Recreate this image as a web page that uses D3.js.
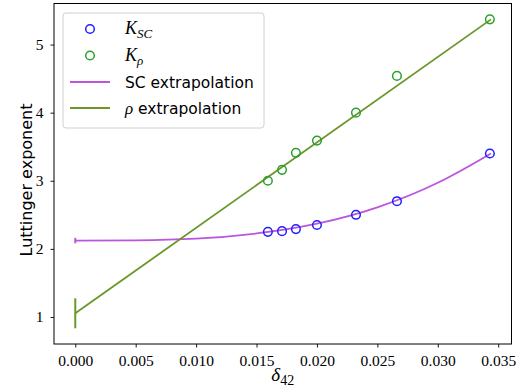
<!DOCTYPE html>
<html lang="en">
<head>
<meta charset="UTF-8">
<title>Luttinger exponent</title>
<script src="https://d3js.org/d3.v7.min.js"></script>
<style>
  body { margin: 0; background: white; }
  .tick text { font-family: "Liberation Serif", serif; font-size: 15.5px; }
</style>
</head>
<body>
<svg id="chart"></svg>
<script>
// data
const delta = [0.01594, 0.01711, 0.01826, 0.0200, 0.02323, 0.02662, 0.03431];
const kSC = [2.25, 2.26, 2.29, 2.35, 2.50, 2.70, 3.40];
const kRho = [3.00, 3.16, 3.41, 3.59, 4.00, 4.54, 5.37];

// extrapolation curves
const scFitX = [0, 0.005, 0.010, 0.015, 0.020, 0.025, 0.030, 0.0344];
const scFitY = [2.12, 2.124, 2.15, 2.226, 2.37, 2.61, 2.97, 3.40];
const rhoFitX = [0, 0.0344];
const rhoFitY = [1.054, 5.37];

// extrapolated values at delta = 0 with errors
const extrapVal = [2.122, 1.054];
const extrapErr = [0.04, 0.22];

const xTicks = [0, 0.005, 0.010, 0.015, 0.020, 0.025, 0.030, 0.035];
const yTicks = [1, 2, 3, 4, 5];

const w = 527, h = 391;
const mLeft = 54, mRight = 511.5, mTop = 3.5, mBottom = 344;

const svg = d3.select("#chart").attr("width", w).attr("height", h);

const x = d3.scaleLinear().domain([-0.00176, 0.0361]).range([mLeft, mRight]);
const y = d3.scaleLinear().domain([0.603, 5.603]).range([mBottom, mTop]);

const blue = "#2020ff", green = "#2ca02c", orchid = "#bb55dd", olive = "#6b9628";

// fits
svg.append("path")
   .datum(scFitX.map((v, i) => [v, scFitY[i]]))
   .attr("d", d3.line().x(d => x(d[0])).y(d => y(d[1])).curve(d3.curveNatural))
   .attr("fill", "none").attr("stroke", orchid).attr("stroke-width", 1.8);
svg.append("path")
   .datum(rhoFitX.map((v, i) => [v, rhoFitY[i]]))
   .attr("d", d3.line().x(d => x(d[0])).y(d => y(d[1])))
   .attr("fill", "none").attr("stroke", olive).attr("stroke-width", 1.8);

// error bars at zero
[orchid, olive].forEach((c, i) => {
    svg.append("line")
       .attr("x1", x(0)).attr("x2", x(0))
       .attr("y1", y(extrapVal[i] - extrapErr[i]))
       .attr("y2", y(extrapVal[i] + extrapErr[i]))
       .attr("stroke", c).attr("stroke-width", 2);
});

// points
svg.selectAll(".sc")
   .data(delta)
   .enter()
   .append("circle")
   .attr("cx", d => x(d))
   .attr("cy", (d, i) => y(kSC[i]))
   .attr("r", 4.3)
   .attr("fill", "none").attr("stroke", blue).attr("stroke-width", 1.5);
svg.selectAll(".rho")
   .data(delta)
   .enter()
   .append("circle")
   .attr("cx", d => x(d))
   .attr("cy", (d, i) => y(kRho[i]))
   .attr("r", 4.3)
   .attr("fill", "none").attr("stroke", green).attr("stroke-width", 1.5);

// axes
const xAxis = d3.axisBottom(x).tickValues(xTicks).tickFormat(d3.format(".3f")).tickSizeOuter(0).tickSize(3.5).tickPadding(7);
const yAxis = d3.axisLeft(y).tickValues(yTicks).tickFormat(d3.format("d")).tickSizeOuter(0).tickSize(3.5).tickPadding(7);

svg.append("g").attr("transform", "translate(0," + mBottom + ")").call(xAxis)
   .call(g => g.select(".domain").remove());
svg.append("g").attr("transform", "translate(" + mLeft + ",0)").call(yAxis)
   .call(g => g.select(".domain").remove());
svg.selectAll(".tick line").attr("stroke", "#000").attr("stroke-width", 0.9);

svg.append("rect")
   .attr("x", mLeft).attr("y", mTop)
   .attr("width", mRight - mLeft).attr("height", mBottom - mTop)
   .attr("fill", "none").attr("stroke", "#000").attr("stroke-width", 1);

// axis labels
const xl = svg.append("text")
   .attr("x", (mLeft + mRight) / 2).attr("y", 381)
   .attr("text-anchor", "middle")
   .style("font-family", "Liberation Serif, serif").style("font-size", "19px");
xl.append("tspan").style("font-style", "italic").text("δ");
xl.append("tspan").attr("dy", 4).style("font-size", "14px").text("42");

svg.append("text")
   .attr("transform", "rotate(-90)")
   .attr("x", -180).attr("y", 32)
   .attr("text-anchor", "middle")
   .style("font-family", "DejaVu Sans, sans-serif").style("font-size", "16px")
   .text("Luttinger exponent");

// legend
const lg = svg.append("g");
lg.append("rect")
  .attr("x", 63).attr("y", 13).attr("width", 201).attr("height", 115)
  .attr("rx", 3).attr("fill", "white").attr("fill-opacity", 0.8)
  .attr("stroke", "#d0d0d0").attr("stroke-width", 1);

const rowY = [29, 55.5, 82, 108];
lg.append("circle").attr("cx", 90).attr("cy", rowY[0]).attr("r", 4.3)
  .attr("fill", "none").attr("stroke", blue).attr("stroke-width", 1.5);
lg.append("circle").attr("cx", 90).attr("cy", rowY[1]).attr("r", 4.3)
  .attr("fill", "none").attr("stroke", green).attr("stroke-width", 1.5);
lg.append("line").attr("x1", 70).attr("x2", 110).attr("y1", rowY[2]).attr("y2", rowY[2])
  .attr("stroke", orchid).attr("stroke-width", 1.8);
lg.append("line").attr("x1", 70).attr("x2", 110).attr("y1", rowY[3]).attr("y2", rowY[3])
  .attr("stroke", olive).attr("stroke-width", 1.8);

const serif = "Liberation Serif, serif";
const t1 = lg.append("text").attr("x", 125).attr("y", rowY[0] + 5)
  .style("font-family", serif).style("font-size", "18px").style("font-style", "italic");
t1.append("tspan").text("K");
t1.append("tspan").attr("dy", 4).style("font-size", "13px").text("SC");
const t2 = lg.append("text").attr("x", 125).attr("y", rowY[1] + 5)
  .style("font-family", serif).style("font-size", "18px").style("font-style", "italic");
t2.append("tspan").text("K");
t2.append("tspan").attr("dy", 4).style("font-size", "13px").text("ρ");

lg.append("text").attr("x", 125).attr("y", rowY[2] + 5.5)
  .style("font-family", "DejaVu Sans, sans-serif").style("font-size", "15.5px")
  .text("SC extrapolation");
const t4 = lg.append("text").attr("x", 125).attr("y", rowY[3] + 5.5)
  .style("font-family", "DejaVu Sans, sans-serif").style("font-size", "15.5px");
t4.append("tspan").style("font-family", serif).style("font-style", "italic").style("font-size", "17px").text("ρ");
t4.append("tspan").text(" extrapolation");
</script>
</body>
</html>
